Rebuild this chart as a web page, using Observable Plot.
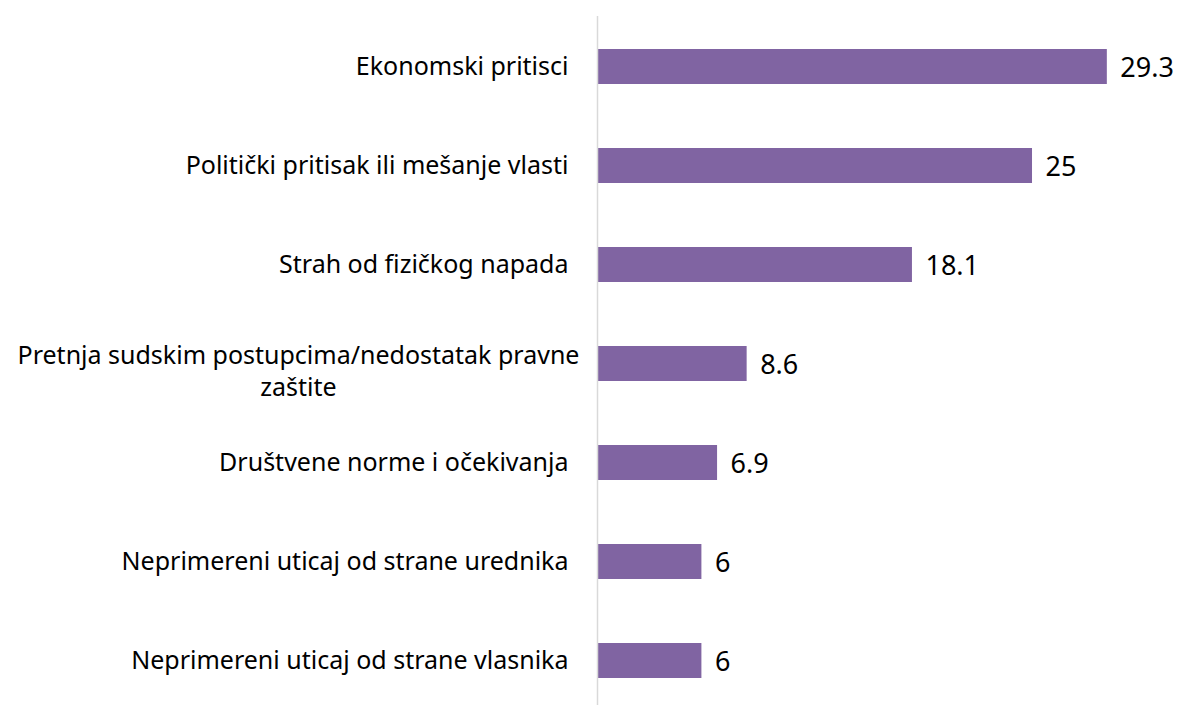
<!DOCTYPE html>
<html>
<head>
<meta charset="utf-8">
<script src="https://cdn.jsdelivr.net/npm/d3@7"></script>
<script src="https://cdn.jsdelivr.net/npm/@observablehq/plot@0.6"></script>
<style>
  html, body { margin: 0; padding: 0; background: #fff; }
  #chart svg { display: block; }
</style>
</head>
<body>
<div id="chart"></div>
<script>
const categories = [
  "Ekonomski pritisci",
  "Politički pritisak ili mešanje vlasti",
  "Strah od fizičkog napada",
  "Pretnja sudskim postupcima/nedostatak pravne\nzaštite",
  "Društvene norme i očekivanja",
  "Neprimereni uticaj od strane urednika",
  "Neprimereni uticaj od strane vlasnika"
];
const values = [29.3, 25, 18.1, 8.6, 6.9, 6, 6];
const valueLabels = ["29.3", "25", "18.1", "8.6", "6.9", "6", "6"];

const data = categories.map((c, i) => ({label: c, value: values[i], text: valueLabels[i]}));
const single = data.filter(d => !d.label.includes("\n"));
const wrapped = data.filter(d => d.label.includes("\n"));

const chart = Plot.plot({
  width: 1178,
  height: 705,
  marginLeft: 597,
  marginRight: 0,
  marginTop: 48,
  marginBottom: 25,
  style: {fontFamily: "'Noto Sans', sans-serif", background: "#fff"},
  x: {domain: [0, 33.39], axis: null},
  y: {domain: categories, paddingInner: 0.643, paddingOuter: 0, axis: null},
  marks: [
    Plot.barX(data, {x: "value", y: "label", fill: "#8064A2"}),
    Plot.text(single, {x: () => 0, y: "label", text: "label", textAnchor: "end", dx: -29, fontSize: 25, fill: "#000"}),
    Plot.text(wrapped, {x: () => 0, y: "label", text: "label", textAnchor: "middle", dx: -299, dy: 6, lineHeight: 1.25, fontSize: 25, fill: "#000"}),
    Plot.text(data, {x: "value", y: "label", text: "text", textAnchor: "start", dx: 13, dy: 1, fontSize: 27, fill: "#000"}),
    Plot.ruleX([0], {stroke: "#d9d9d9", strokeWidth: 1.5, insetTop: -32, insetBottom: -25})
  ]
});
document.getElementById("chart").appendChild(chart);
</script>
</body>
</html>
